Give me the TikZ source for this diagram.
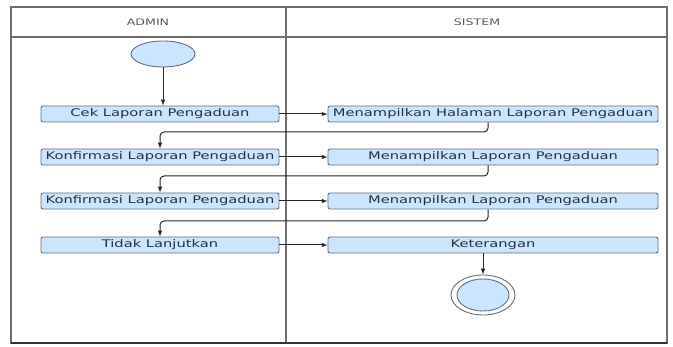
\documentclass[tikz,border=0pt]{standalone}
\usepackage{fontspec}
\newfontfamily\umlfont{DejaVu Sans}[FakeStretch=1.4]
\usepackage{tikz}
\usetikzlibrary{shapes.geometric}

\definecolor{actfill}{RGB}{204,229,255}
\definecolor{actline}{RGB}{100,110,128}
\definecolor{acttext}{RGB}{40,48,66}
\definecolor{lanegray}{RGB}{110,110,110}

\tikzset{
    act/.style={draw=actline, line width=0.9pt, fill=actfill, rounded corners=2pt, minimum height=16pt,
        inner sep=0pt, text=acttext, font=\umlfont\fontsize{10.5}{12}\selectfont},
    lanetitle/.style={text=black!65, font=\umlfont\fontsize{9}{11}\selectfont},
    flow/.style={-latex, line width=1pt, draw=black!85},
}

\begin{document}
\begin{tikzpicture}[x=1pt,y=-1pt]
    \useasboundingbox (0,0) rectangle (673,347);

    % Draw swimlanes
    \draw[lanegray, line width=1.2pt] (11,7) rectangle (667,343);
    \draw[lanegray, line width=1.2pt] (11,37) -- (667,37);
    \draw[lanegray, line width=2pt] (286,7) -- (286,343);
    \draw[black!80, line width=1.2pt] (11,343) -- (667,343);
    \node[lanetitle] (admin) at (148,22) {ADMIN};
    \node[lanetitle] (sistem) at (477,22) {SISTEM};

    % Start and end nodes
    \node[draw=actline, line width=0.9pt, fill=actfill, ellipse, minimum width=64pt, minimum height=26pt] (start) at (163,54) {};
    \node[draw=actline, line width=0.9pt, ellipse, minimum width=64pt, minimum height=40pt] (stop) at (483,295) {};
    \node[draw=actline, line width=0.9pt, fill=actfill, ellipse, minimum width=52pt, minimum height=32pt] (stopin) at (stop) {};

    % Admin actions
    \foreach \n/\y/\t in {cek/114/Cek Laporan Pengaduan, konf1/157/Konfirmasi Laporan Pengaduan,
            konf2/201/Konfirmasi Laporan Pengaduan, tidak/245/Tidak Lanjutkan}
        \node[act, minimum width=238pt] (\n) at (160,\y) {\t};
    % Sistem actions
    \foreach \n/\y/\t in {hal/114/Menampilkan Halaman Laporan Pengaduan, tamp1/157/Menampilkan Laporan Pengaduan,
            tamp2/201/Menampilkan Laporan Pengaduan, ket/245/Keterangan}
        \node[act, minimum width=330pt] (\n) at (493,\y) {\t};

    % Flows
    \draw[flow] (start) -- (start |- cek.north);
    \foreach \a/\b in {cek/hal, konf1/tamp1, konf2/tamp2, tidak/ket}
        \draw[flow] (\a) -- (\b);
    \foreach \a/\b/\y in {hal/konf1/132, tamp1/konf2/176, tamp2/tidak/221}
        \draw[flow, rounded corners=4pt] ([xshift=-5pt]\a.south) -- ([xshift=-5pt]\a.south |- 0,\y)
            -- (\b.north |- 0,\y) -- (\b.north);
    \draw[flow] (stop |- ket.south) -- (stop);
\end{tikzpicture}
\end{document}
